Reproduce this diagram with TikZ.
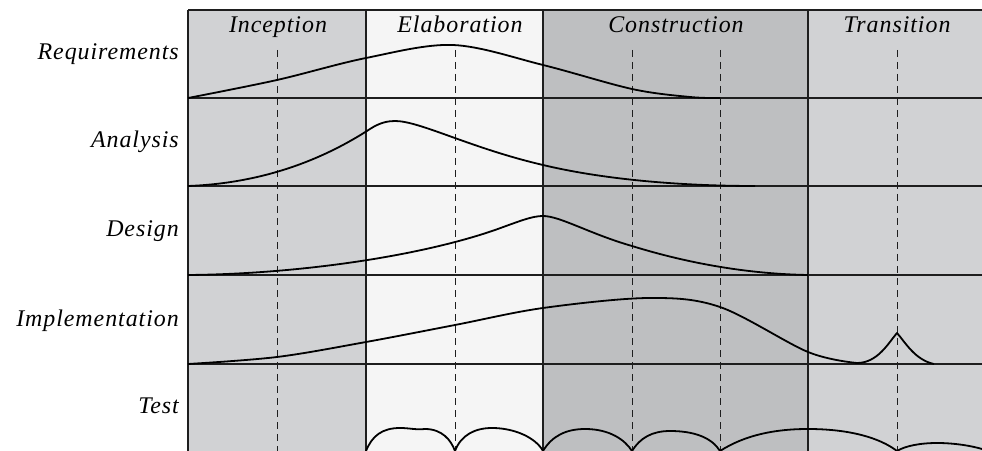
\documentclass[tikz,border=0pt]{standalone}
\usepackage{fontspec}
\newfontfamily\labelfont{Liberation Serif Italic}[LetterSpace=4]
\definecolor{incep}{RGB}{209,210,212}
\definecolor{elab}{RGB}{245,245,245}
\definecolor{constr}{RGB}{190,191,193}
\definecolor{trans}{RGB}{209,210,212}
\definecolor{inkc}{RGB}{30,30,30}
\begin{document}
\begin{tikzpicture}[x=1bp,y=-1bp,
  gridline/.style={draw=inkc,line width=1.3bp},
  milestone/.style={draw=inkc,line width=1bp,dash pattern=on 7bp off 5bp},
  effort/.style={draw=black,line width=1.8bp,line join=round},
  phaselabel/.style={anchor=base,inner sep=0pt,font=\labelfont\fontsize{24}{28}\selectfont},
  rowlabel/.style={anchor=base east,inner sep=0pt,font=\labelfont\fontsize{24}{28}\selectfont}]
\useasboundingbox (0,0) rectangle (982,451);
% phase backgrounds
\fill[incep] (188,10) rectangle (366,451);
\fill[elab] (366,10) rectangle (543,451);
\fill[constr] (543,10) rectangle (808,451);
\fill[trans] (808,10) rectangle (982,451);
% dashed milestones
\foreach \xx in {277,455,632,720,897} \draw[milestone] (\xx,50) -- (\xx,451);
% grid
\foreach \yy in {10,98,186,275,364} \draw[gridline] (188,\yy) -- (982,\yy);
\foreach \xx in {188,366,543,808} \draw[gridline] (\xx,10) -- (\xx,451);
% phase labels
\node[phaselabel] (inc) at (278,33) {Inception};
\node[phaselabel] (ela) at (460,33) {Elaboration};
\node[phaselabel] (con) at (676,33) {Construction};
\node[phaselabel] (tra) at (897,33) {Transition};
% row labels
\node[rowlabel] (req) at (179,60) {Requirements};
\node[rowlabel] (ana) at (179,148) {Analysis};
\node[rowlabel] (des) at (179,237) {Design};
\node[rowlabel] (imp) at (179,327) {Implementation};
\node[rowlabel] (tst) at (179,413) {Test};
% effort curves
\draw[effort] plot[smooth,tension=0.55] coordinates {(188,98) (277,80) (366,58) (453,45) (543,65) (632,89) (690,97) (720,98)};
\draw[effort] (188,186) .. controls (270,183) and (330,155) .. (370,129)
  .. controls (380,122.5) and (388,121) .. (395,121)
  .. controls (420,121) and (470,148) .. (543,165)
  .. controls (610,181) and (690,186) .. (755,186);
\draw[effort] (188,275) .. controls (300,274) and (420,256) .. (495,230)
  .. controls (520,221) and (532,216) .. (543,216)
  .. controls (560,216) and (590,234) .. (632,246)
  .. controls (690,264) and (750,274) .. (808,275);
\draw[effort] plot[smooth,tension=0.55] coordinates {(188,364) (277,357) (366,342) (455,325) (543,308) (649,298) (720,307) (808,352) (857,363)}
  .. controls (878,363) and (889,342) .. (897,333)
  .. controls (905,342) and (915,360) .. (934,364);
% test bumps
\draw[effort] (366,451) .. controls (372,436) and (382,428) .. (400,428)
  .. controls (410,428) and (415,430) .. (425,429) .. controls (442,429) and (451,440) .. (455,451);
\draw[effort] (455,451) .. controls (461,435) and (475,428) .. (492,428)
  .. controls (515,428) and (536,438) .. (543,451);
\draw[effort] (543,451) .. controls (552,436) and (566,429) .. (585,429)
  .. controls (610,429) and (625,440) .. (632,451);
\draw[effort] (632,451) .. controls (640,438) and (652,431) .. (670,431)
  .. controls (695,431) and (712,438) .. (720,451);
\draw[effort] (720,451) .. controls (745,435) and (775,429) .. (808,429)
  .. controls (850,429) and (880,438) .. (897,451);
\draw[effort] (897,451) .. controls (905,446) and (920,443) .. (937,443)
  .. controls (955,443) and (972,446) .. (982,449);
\end{tikzpicture}
\end{document}
